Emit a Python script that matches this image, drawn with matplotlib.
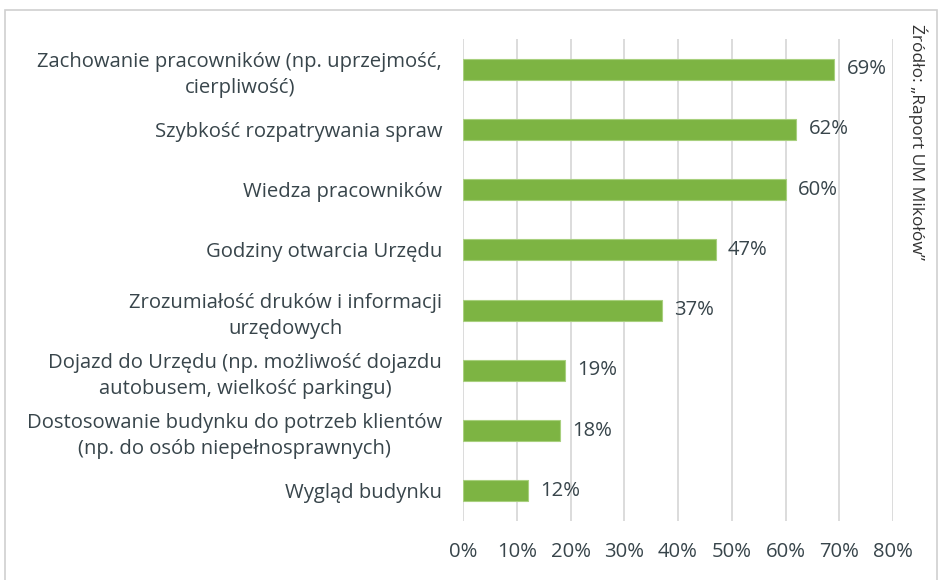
import matplotlib
matplotlib.use("Agg")
import matplotlib.pyplot as plt
from matplotlib.patches import Rectangle
from matplotlib.ticker import FuncFormatter, MultipleLocator

categories = [
    "Zachowanie pracowników (np. uprzejmość,\ncierpliwość)",
    "Szybkość rozpatrywania spraw",
    "Wiedza pracowników",
    "Godziny otwarcia Urzędu",
    "Zrozumiałość druków i informacji\nurzędowych",
    "Dojazd do Urzędu (np. możliwość dojazdu\nautobusem, wielkość parkingu)",
    "Dostosowanie budynku do potrzeb klientów\n(np. do osób niepełnosprawnych)",
    "Wygląd budynku",
]
values = [69, 62, 60, 47, 37, 19, 18, 12]
source_text = "Źródło: „Raport UM Mikołów”"

plt.rcParams['font.family'] = ['Open Sans', 'DejaVu Sans']
TEXT = '#38454B'
GREEN = '#7DB443'
FS = 14.6

fig = plt.figure(figsize=(9.43, 5.80), dpi=100)
W, H = 943, 580
ax = fig.add_axes([463 / W, (H - 521) / H, (893 - 463) / W, (521 - 39) / H])

y = list(range(len(categories)))
ax.barh(y, values, height=0.35, color=GREEN, edgecolor='#A8D07E', linewidth=0.8, zorder=3)
ax.set_ylim(len(categories) - 0.5, -0.5)
ax.set_xlim(0, 80)
ax.xaxis.set_major_locator(MultipleLocator(10))
ax.xaxis.set_major_formatter(FuncFormatter(lambda v, p: f"{int(round(v))}%"))
ax.grid(axis='x', color='#D9D9D9', linewidth=1.3, zorder=0)
for s in ax.spines.values():
    s.set_visible(False)
ax.tick_params(axis='x', length=0, pad=15, labelsize=FS, labelcolor=TEXT)
ax.tick_params(axis='y', length=0, pad=15, labelsize=FS, labelcolor=TEXT)
ax.set_yticks(y)
ax.set_yticklabels(categories, multialignment='center', linespacing=1.4)

for yi, v in zip(y, values):
    ax.annotate(f"{v}%", (v, yi), xytext=(9, 0), textcoords='offset points',
                va='center', ha='left', fontsize=FS, color=TEXT)

fig.text(918 / W, (H - 24) / H, source_text, rotation=-90, ha='center', va='top',
         fontsize=12.5, color='#333333')

fig.patches.append(Rectangle((5 / W, -0.05), (937 - 5) / W, (H - 10) / H + 0.05,
                             transform=fig.transFigure, fill=False,
                             edgecolor='#D0D0D0', linewidth=1.2, figure=fig))

fig.savefig("out.png", dpi=100, facecolor='white')
